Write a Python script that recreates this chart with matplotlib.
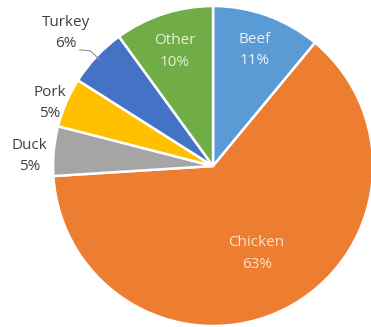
import numpy as np
import matplotlib
matplotlib.use("Agg")
import matplotlib.pyplot as plt

categories = ["Beef", "Chicken", "Duck", "Pork", "Turkey", "Other"]
values = [11, 63, 5, 5, 6, 10]
colors = ["#5B9BD5", "#ED7D31", "#A5A5A5", "#FFC000", "#4472C4", "#70AD47"]
label_dist = [0.77, 0.60, 1.15, 1.115, 1.26, 0.77]
label_dy = [0.0, -0.012, -0.045, -0.05, -0.032, -0.015]
inside = [True, True, False, False, False, True]

plt.rcParams['font.family'] = ['Open Sans', 'DejaVu Sans']

fig = plt.figure(figsize=(3.71, 3.27), dpi=100)
ax = fig.add_axes([0.143, 0.003, 0.8625, 0.9786])
wedges, _ = ax.pie(values, colors=colors, startangle=90, counterclock=False,
                   wedgeprops=dict(edgecolor='white', linewidth=1.8))
ax.set_xlim(-1, 1)
ax.set_ylim(-1, 1)
ax.set_aspect('equal')
ax.axis('off')

total = sum(values)
for w, cat, v, d, dy, ins in zip(wedges, categories, values, label_dist, label_dy, inside):
    ang = np.deg2rad((w.theta1 + w.theta2) / 2)
    x, y = d * np.cos(ang), d * np.sin(ang) + dy
    if cat == 'Chicken':
        col = '#F8E2CF'
    elif cat == 'Other':
        col = '#E4F0DA'
    elif ins:
        col = '#EAF2FA'
    else:
        col = '#404040'
    ax.text(x, y, f"{cat}\n{round(100 * v / total)}%", ha='center', va='center',
            fontsize=11, color=col, linespacing=1.6, clip_on=False)
    if cat == 'Turkey':
        ex, ey = 0.97 * np.cos(ang), 0.97 * np.sin(ang)
        ax.plot([x + 0.085, x + 0.15, ex], [y - 0.105, y - 0.11, ey],
                color='#909090', lw=0.8, clip_on=False)

fig.savefig("out.png", dpi=100)
